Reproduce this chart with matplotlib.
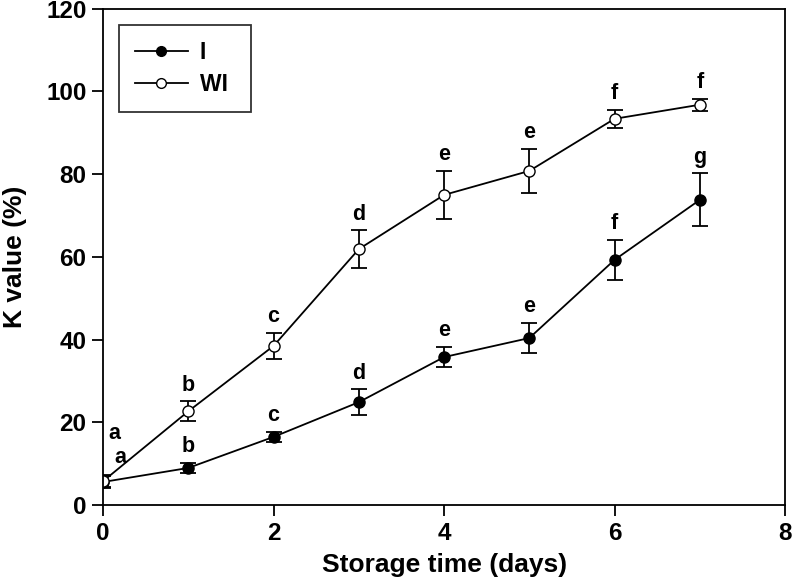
import numpy as np
import matplotlib
matplotlib.use("Agg")
import matplotlib.pyplot as plt
from matplotlib.lines import Line2D

plt.rcParams['font.family'] = ['Liberation Sans', 'DejaVu Sans']
plt.rcParams['font.weight'] = 'bold'

days = [0, 1, 2, 3, 4, 5, 6, 7]
k_i = [5.6, 9.0, 16.5, 24.9, 35.8, 40.4, 59.3, 73.8]
err_i = [1.5, 1.2, 1.2, 3.1, 2.4, 3.6, 4.8, 6.4]
k_wi = [5.8, 22.7, 38.5, 61.9, 75.0, 80.8, 93.4, 96.8]
err_wi = [1.5, 2.4, 3.1, 4.5, 5.8, 5.3, 2.2, 1.4]
letters_i = ['a', 'b', 'c', 'd', 'e', 'e', 'f', 'g']
letters_wi = ['a', 'b', 'c', 'd', 'e', 'e', 'f', 'f']

fig = plt.figure(figsize=(7.93, 5.84), dpi=100)
ax = fig.add_axes([0.130, 0.135, 0.860, 0.850])

ax.errorbar(days, k_i, yerr=err_i, color='black', marker='o', markersize=8,
            markerfacecolor='black', markeredgecolor='black', lw=1.3,
            capsize=5.5, elinewidth=1.3, capthick=1.3)
ax.errorbar(days, k_wi, yerr=err_wi, color='black', marker='o', markersize=8,
            markerfacecolor='white', markeredgecolor='black', lw=1.3,
            capsize=5.5, elinewidth=1.3, capthick=1.3)

# significance letters
fs_let = 15.5
for i, d in enumerate(days):
    if d == 0:
        ax.text(d + 0.2, k_i[i] + err_i[i] + 2.0, letters_i[i], ha='center', va='bottom',
                fontsize=fs_let, fontweight='bold')
        ax.text(d + 0.13, k_wi[i] + err_wi[i] + 7.5, letters_wi[i], ha='center', va='bottom',
                fontsize=fs_let, fontweight='bold')
    else:
        ax.text(d, k_i[i] + err_i[i] + 1.4, letters_i[i], ha='center', va='bottom',
                fontsize=fs_let, fontweight='bold')
        ax.text(d, k_wi[i] + err_wi[i] + 1.4, letters_wi[i], ha='center', va='bottom',
                fontsize=fs_let, fontweight='bold')

ax.set_xlim(0, 8)
ax.set_ylim(0, 120)
ax.set_xticks([0, 2, 4, 6, 8])
ax.set_yticks([0, 20, 40, 60, 80, 100, 120])
ax.tick_params(direction='out', length=8, width=1.3, labelsize=17.5, top=False, right=False, pad=4)
for lab in ax.get_xticklabels() + ax.get_yticklabels():
    lab.set_fontweight('bold')
for s in ax.spines.values():
    s.set_linewidth(1.3)

ax.set_xlabel('Storage time (days)', fontsize=19, fontweight='bold', labelpad=6)
ax.set_ylabel('K value (%)', fontsize=19, fontweight='bold')
ax.yaxis.set_label_coords(-0.111, 0.5)

handles = [
    Line2D([], [], color='black', lw=1.3, marker='o', markersize=7,
           markerfacecolor='black', markeredgecolor='black'),
    Line2D([], [], color='black', lw=1.3, marker='o', markersize=7,
           markerfacecolor='white', markeredgecolor='black'),
]
leg = ax.legend(handles, ['I ', 'WI '], loc='upper left', bbox_to_anchor=(0.023, 0.968),
                borderaxespad=0, frameon=True, fancybox=False, edgecolor='black',
                handlelength=2.3, borderpad=0.7, labelspacing=0.4, handletextpad=0.55,
                prop={'weight': 'bold', 'size': 16.5})
leg.get_frame().set_linewidth(1.3)

fig.savefig('out.png', dpi=100)
